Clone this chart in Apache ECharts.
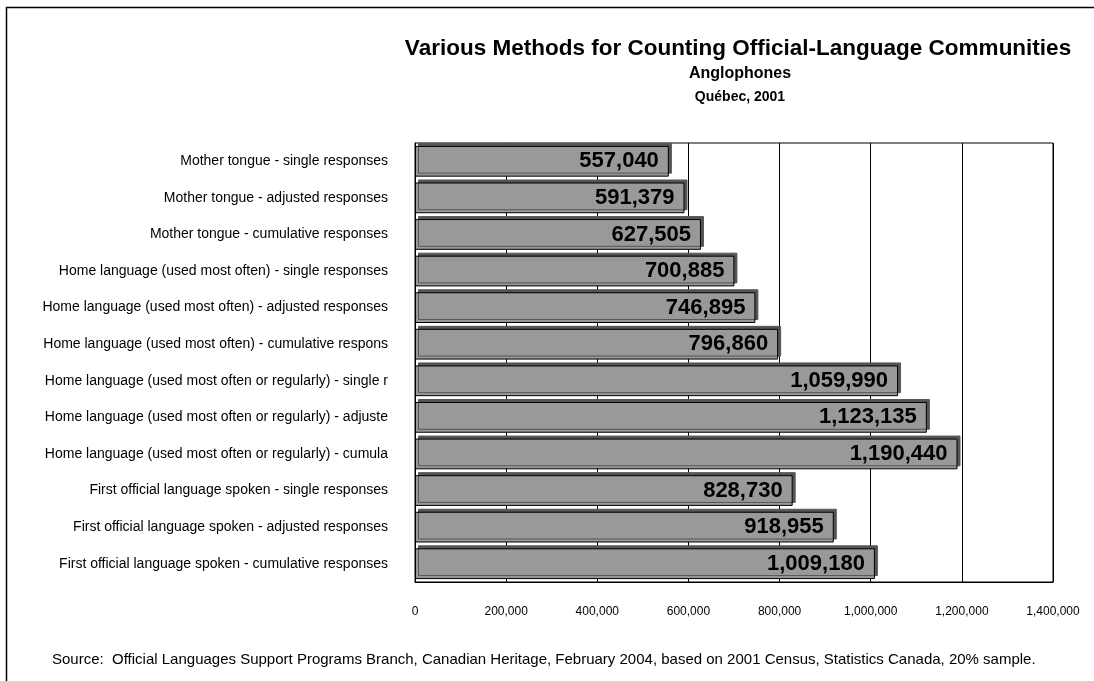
<!DOCTYPE html>
<html>
<head>
<meta charset="utf-8">
<script src="https://cdn.jsdelivr.net/npm/echarts@6/dist/echarts.min.js"></script>
<style>
  html, body { margin: 0; padding: 0; background: #ffffff; }
  #chart { width: 1094px; height: 681px; }
</style>
</head>
<body>
<div id="chart"></div>
<script>
// categories (as shown, truncated like the original)
var categories = [
  'Mother tongue - single responses',
  'Mother tongue - adjusted responses',
  'Mother tongue - cumulative responses',
  'Home language (used most often) - single responses',
  'Home language (used most often) - adjusted responses',
  'Home language (used most often) - cumulative respons',
  'Home language (used most often or regularly) - single r',
  'Home language (used most often or regularly) - adjuste',
  'Home language (used most often or regularly) - cumula',
  'First official language spoken - single responses',
  'First official language spoken - adjusted responses',
  'First official language spoken - cumulative responses'
]
// anglophones counts
var values = [557040, 591379, 627505, 700885, 746895, 796860, 1059990, 1123135, 1190440, 828730, 918955, 1009180]
var xMax = 1400000
var xStep = 200000

var titleText = 'Various Methods for Counting Official-Language Communities'
var subText1 = 'Anglophones'
var subText2 = 'Québec, 2001'
var sourceText = 'Source:  Official Languages Support Programs Branch, Canadian Heritage, February 2004, based on 2001 Census, Statistics Canada, 20% sample.'

function fmt(v) {
  return Number(v).toLocaleString('en-US')
}

var myChart = echarts.init(document.getElementById('chart'))
var option = {
  animation: false,
  backgroundColor: '#ffffff',
  textStyle: { fontFamily: 'Liberation Sans, Arial, sans-serif' },
  title: [
    {
      text: titleText,
      left: 733, top: 32, textAlign: 'center',
      textStyle: { fontSize: 22.5, fontWeight: 'bold', color: '#000' }
    },
    {
      text: subText1,
      left: 735, top: 61, textAlign: 'center',
      textStyle: { fontSize: 16, fontWeight: 'bold', color: '#000' }
    },
    {
      text: subText2,
      left: 735, top: 85, textAlign: 'center',
      textStyle: { fontSize: 14, fontWeight: 'bold', color: '#000' }
    },
    {
      text: sourceText,
      left: 47, top: 647,
      textStyle: { fontSize: 15, fontWeight: 'normal', color: '#000' }
    }
  ],
  // outer frame
  graphic: [
    {
      type: 'rect',
      shape: { x: 6.5, y: 7.5, width: 1200, height: 1000 },
      style: { fill: 'none', stroke: '#000', lineWidth: 1.5 },
      silent: true
    }
  ],
  grid: {
    left: 415,
    right: 41,
    top: 143,
    bottom: 99,
    show: true,
    borderColor: '#000',
    borderWidth: 1
  },
  xAxis: {
    type: 'value',
    min: 0,
    max: xMax,
    interval: xStep,
    axisLine: { show: true, lineStyle: { color: '#000' } },
    axisTick: { show: false },
    splitLine: { show: true, lineStyle: { color: '#000', width: 1 } },
    axisLabel: {
      color: '#000',
      fontSize: 12,
      margin: 24,
      formatter: function (v) { return fmt(v) }
    }
  },
  yAxis: {
    type: 'category',
    inverse: true,
    data: categories,
    axisLine: { show: true, lineStyle: { color: '#000' } },
    axisTick: { show: false },
    axisLabel: {
      color: '#000',
      fontSize: 14,
      margin: 27
    }
  },
  series: [
    {
      name: 'Anglophones',
      type: 'bar',
      data: values,
      barCategoryGap: '16%',
      itemStyle: {
        color: '#999999',
        borderColor: '#000',
        borderWidth: 1,
        shadowColor: '#555555',
        shadowBlur: 0,
        shadowOffsetX: 3,
        shadowOffsetY: -3
      },
      label: {
        show: true,
        position: 'insideRight',
        distance: 10,
        color: '#000',
        fontSize: 22,
        fontWeight: 'bold',
        formatter: function (p) { return fmt(p.value) }
      }
    }
  ]
}
myChart.setOption(option, true)
</script>
</body>
</html>
